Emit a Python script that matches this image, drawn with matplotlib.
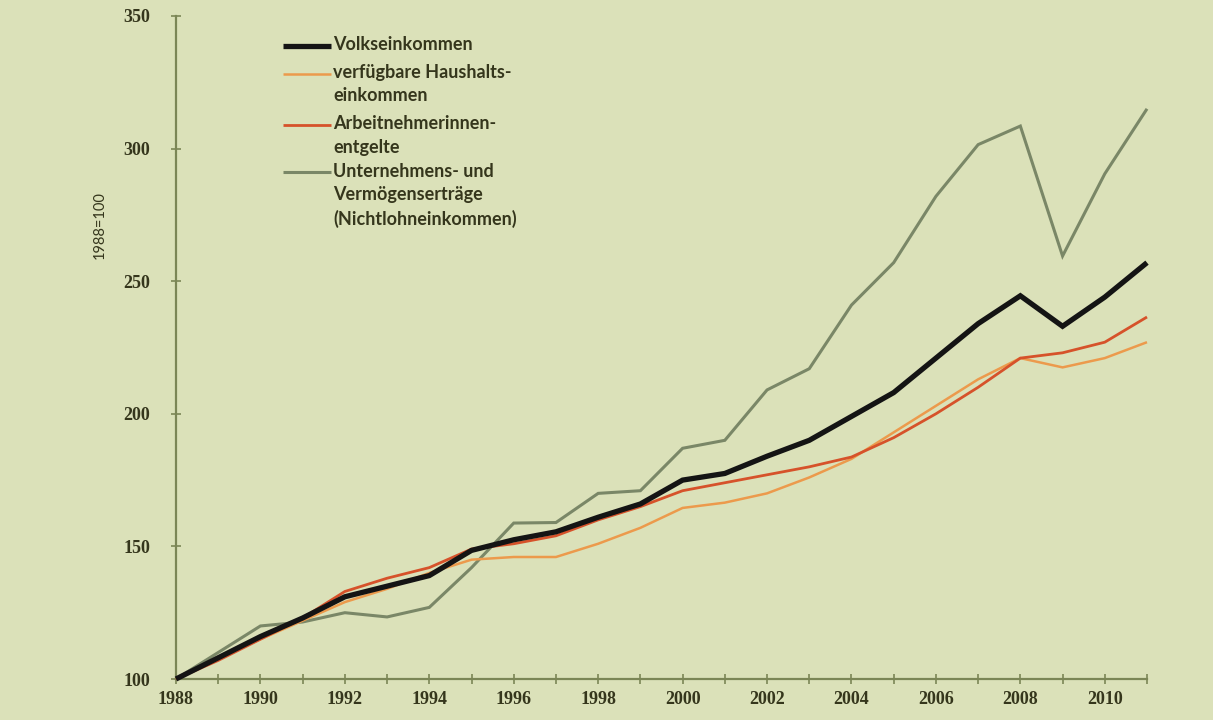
import numpy as np
import matplotlib
matplotlib.use("Agg")
import matplotlib.pyplot as plt

# -----------------------------
# Data (index, 1988 = 100)
# -----------------------------
years = np.arange(1988, 2012)

volkseinkommen = [100, 108, 116, 123, 131, 135, 139, 148.5, 152.5, 155.5, 161, 166,
                  175, 177.5, 184, 190, 199, 208, 221, 234, 244.5, 233, 244, 257]
haushaltseinkommen = [100, 108, 115, 122, 129, 134, 140, 145, 146, 146, 151, 157,
                      164.5, 166.5, 170, 176, 183, 193, 203, 213, 221, 217.5, 221, 227]
arbeitnehmerentgelte = [100, 107, 115, 123, 133, 138, 142, 149, 151, 154, 160, 165,
                        171, 174, 177, 180, 183.7, 191, 200, 210, 221, 223, 227, 236.5]
nichtlohneinkommen = [100, 110, 120, 121.5, 125, 123.4, 127, 142, 158.8, 159, 170, 171,
                      187, 190, 209, 217, 241, 257, 282, 301.5, 308.5, 259.5, 290.5, 315]

labels = ["Volkseinkommen",
          "verfügbare Haushalts-\neinkommen",
          "Arbeitnehmerinnen-\nentgelte",
          "Unternehmens- und\nVermögenserträge\n(Nichtlohneinkommen)"]

y_ticks = [100, 150, 200, 250, 300, 350]
x_tick_labels = list(range(1988, 2012, 2))

# -----------------------------
# Styling
# -----------------------------
bg = "#dbe1b9"
axis_col = "#7b8656"
text_col = "#35361c"
colors = ["#141414", "#ec9a4c", "#d6522a", "#7a8767"]
widths = [3.8, 1.8, 2.0, 2.2]

fig = plt.figure(figsize=(12.13, 7.2), dpi=100)
fig.patch.set_facecolor(bg)
ax = fig.add_axes([176 / 1213, 1 - 679 / 720, 971 / 1213, 663 / 720])
ax.set_facecolor(bg)

series = [volkseinkommen, haushaltseinkommen, arbeitnehmerentgelte, nichtlohneinkommen]
zorders = [5, 3, 4, 2]
for vals, c, w, z in zip(series, colors, widths, zorders):
    ax.plot(years, vals, color=c, lw=w, zorder=z, solid_joinstyle="miter",
            solid_capstyle="butt", clip_on=False)

ax.set_xlim(1988, 2011)
ax.set_ylim(100, 350)

for s in ["top", "right"]:
    ax.spines[s].set_visible(False)
for s in ["left", "bottom"]:
    ax.spines[s].set_color(axis_col)
    ax.spines[s].set_linewidth(1.6)

tick_font = dict(family="Liberation Serif", weight="bold", size=13)
ax.set_xticks(years, minor=True)
ax.set_xticks(x_tick_labels)
ax.set_xticklabels([str(y) for y in x_tick_labels], fontdict=tick_font, color=text_col)
ax.set_yticks(y_ticks)
ax.set_yticklabels([str(y) for y in y_ticks], fontdict=tick_font, color=text_col)
ax.tick_params(axis="both", which="both", direction="inout", length=7, width=1.2,
               color=axis_col)
ax.tick_params(axis="x", which="major", pad=5)
ax.tick_params(axis="y", which="major", pad=15)

fig.text(100 / 1213, 1 - 225 / 720, "1988=100", rotation=90, ha="center", va="center",
         family="Lato", size=10.5, color=text_col)

# -----------------------------
# Legend (handle next to first text line)
# -----------------------------
leg_font = dict(family="Lato", weight="bold", size=13)
leg_y = [0.955, 0.913, 0.835, 0.764]
for lab, c, w, yy in zip(labels, colors, widths, leg_y):
    ax.plot([0.110, 0.160], [yy, yy], transform=ax.transAxes, color=c,
            lw=w, solid_capstyle="butt", clip_on=False)
    ax.text(0.162, yy + 0.015, lab, transform=ax.transAxes, ha="left", va="top",
            color=text_col, linespacing=1.45, **leg_font)

fig.savefig("out.png", dpi=100, facecolor=bg)
